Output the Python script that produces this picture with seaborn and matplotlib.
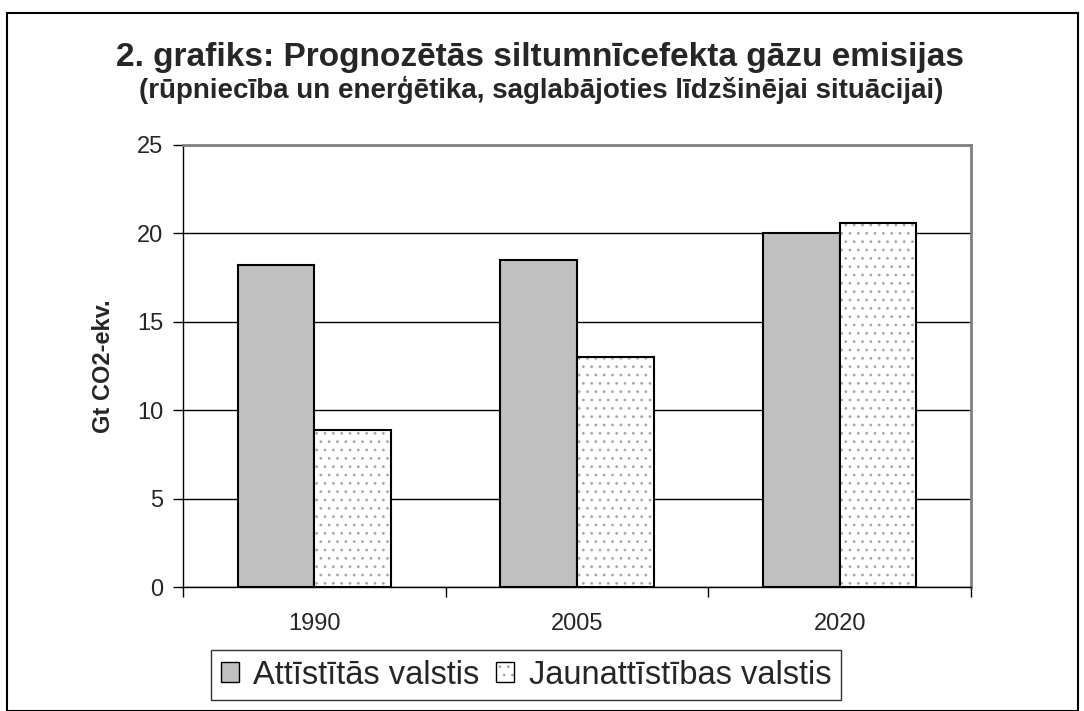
import numpy as np
import pandas as pd
import matplotlib
import matplotlib.pyplot as plt
import seaborn as sns
from matplotlib.patches import Rectangle, Patch

years = ['1990', '2005', '2020']
attistitas = [18.2, 18.5, 20.0]
jaunattistibas = [8.9, 13.0, 20.6]
series = ['Attīstītās valstis', 'Jaunattīstības valstis']

df = pd.DataFrame({
    'year': years * 2,
    'value': attistitas + jaunattistibas,
    'group': [series[0]] * 3 + [series[1]] * 3,
})

sns.set_style('white')
plt.rcParams['font.family'] = ['Liberation Sans', 'DejaVu Sans']
plt.rcParams['hatch.linewidth'] = 0.8

dot_gray = '#a8a8a8'

fig = plt.figure(figsize=(10.84, 7.11), dpi=100)
ax = fig.add_axes([183 / 1084, 1 - 587 / 711, (971 - 183) / 1084, (587 - 145) / 711])

sns.barplot(data=df, x='year', y='value', hue='group', ax=ax,
            palette=['#c0c0c0', 'white'], width=0.585, gap=0,
            edgecolor='black', linewidth=1.5, legend=False, zorder=3)

# dotted fill for the second series: gray dots, black outline on top
for bar in ax.patches[3:6]:
    bar.set_hatch('..')
    bar.set_edgecolor(dot_gray)
    bar.set_linewidth(0)
    ax.add_patch(Rectangle(bar.get_xy(), bar.get_width(), bar.get_height(),
                           fill=False, edgecolor='black', linewidth=1.5, zorder=4))

ax.set_ylim(0, 25)
ax.set_yticks(range(0, 26, 5))
ax.set_xlim(-0.5, 2.5)
ax.yaxis.grid(True, color='black', linewidth=1, zorder=0)
ax.set_axisbelow(True)

ax.set_xlabel('')
ax.set_ylabel('Gt CO2-ekv.', fontsize=17, fontweight='bold')
ax.yaxis.set_label_coords(-0.086, 0.5)
ax.tick_params(axis='y', labelsize=17, length=7, width=1, direction='out', left=True,
               color='black', pad=7)
ax.tick_params(axis='x', which='major', labelsize=17, length=0, pad=19)
ax.set_xticks([-0.5, 0.5, 1.5, 2.5], minor=True)
ax.tick_params(axis='x', which='minor', length=7, width=1, bottom=True, color='black')

for side in ['left', 'bottom']:
    ax.spines[side].set_color('black')
    ax.spines[side].set_linewidth(1)
for side in ['top', 'right']:
    ax.spines[side].set_color('#808080')
    ax.spines[side].set_linewidth(2)

fig.text(0.498, 1 - 66 / 711, '2. grafiks: Prognozētās siltumnīcefekta gāzu emisijas',
         ha='center', va='baseline', fontsize=24, fontweight='bold')
fig.text(0.499, 1 - 98 / 711, '(rūpniecība un enerģētika, saglabājoties līdzšinējai situācijai)',
         ha='center', va='baseline', fontsize=20, fontweight='bold')

handles = [Patch(facecolor='#c0c0c0', edgecolor='black', linewidth=1),
           (Patch(facecolor='white', edgecolor=dot_gray, linewidth=0, hatch='..'),
            Patch(fill=False, edgecolor='black', linewidth=1))]
leg = fig.legend(handles, series, loc='center', bbox_to_anchor=(526 / 1084, 1 - 675 / 711),
                 ncol=2, fontsize=23.5, frameon=True, fancybox=False, edgecolor='black',
                 handlelength=0.55, handleheight=0.55, handletextpad=0.45, columnspacing=0.5,
                 borderpad=0.3, borderaxespad=0)
leg.get_frame().set_linewidth(1)

# outer frame of the chart
fig.patches.append(Rectangle((7 / 1084, 0), (1078 - 7) / 1084, 1 - 13 / 711,
                             transform=fig.transFigure, fill=False,
                             edgecolor='black', linewidth=1.5))

fig.savefig('out.png', dpi=100)
